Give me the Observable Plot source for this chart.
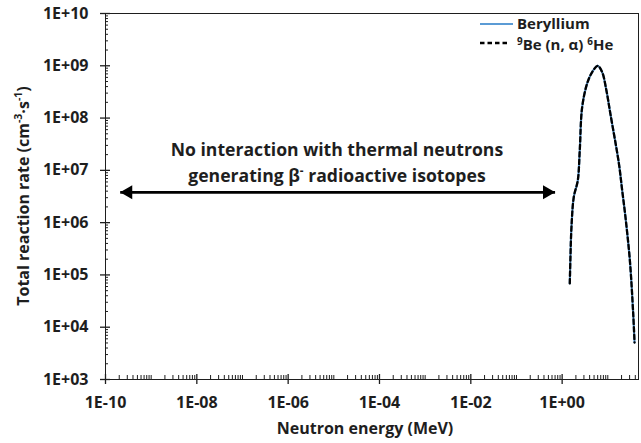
<!DOCTYPE html>
<html>
<head>
<meta charset="utf-8">
<script src="https://cdn.jsdelivr.net/npm/d3@7"></script>
<script src="https://cdn.jsdelivr.net/npm/@observablehq/plot@0.6"></script>
<style>
  body { margin: 0; background: #fff; }
  #chart svg { display: block; }
</style>
</head>
<body>
<div id="chart"></div>
<script>
// Neutron energy (MeV) and total reaction rates (cm^-3 s^-1)
const energy    = [1.47, 1.52, 1.6, 1.8, 2.2, 2.43, 2.74, 3.53, 4.55, 6.0, 7.5, 9.3, 11.4, 17.5, 20.6, 24.4, 30.4, 36, 38.5];
const beryllium = [6.9e4, 2.2e5, 8.2e5, 3.1e6, 6.4e6, 2.4e7, 1.6e8, 4.6e8, 7.6e8, 1.0e9, 7.6e8, 3.4e8, 1.2e8, 1.35e7, 4.2e6, 1.26e6, 1.9e5, 1.8e4, 5.1e3];
const be9nAlpha = [6.9e4, 2.2e5, 8.2e5, 3.1e6, 6.4e6, 2.4e7, 1.6e8, 4.6e8, 7.6e8, 1.0e9, 7.6e8, 3.4e8, 1.2e8, 1.35e7, 4.2e6, 1.26e6, 1.9e5, 1.8e4, 5.1e3];

// Axis ticks
const xMajor = [1e-10, 1e-8, 1e-6, 1e-4, 1e-2, 1];
const yMajor = [1e3, 1e4, 1e5, 1e6, 1e7, 1e8, 1e9, 1e10];
const xDecades = d3.range(-10, 2);
const yDecades = d3.range(3, 10);
const xMinor = xDecades.flatMap(e => d3.range(1, 10).map(m => m * 10 ** e))
  .filter(v => v <= 47 && !xMajor.includes(v));
const yMinor = yDecades.flatMap(e => d3.range(2, 10).map(m => m * 10 ** e));

// Annotation: double arrow span and its caption
const arrowEnds = [2.1e-10, 0.7];
const arrowLevel = 3.8e6;
const noteX = 1.2e-5;
const noteLines = [
  {y: 2.4e7, parts: [{t: "No interaction with thermal neutrons"}]},
  {y: 7.6e6, parts: [{t: "generating β"}, {t: "-", sup: true}, {t: " radioactive isotopes"}]}
];

const rows = energy.map((e, i) => ({energy: e, beryllium: beryllium[i], reaction: be9nAlpha[i]}));

const W = 641, H = 443;
const mt = 13, mb = 64, ml = 105, mr = 3;
const pw = W - ml - mr, ph = H - mt - mb;
const ink = "#1e1e1e";
const font = "'Open Sans', Lato, sans-serif";

const fmtExp = d => {
  const e = Math.round(Math.log10(d));
  return "1E" + (e < 0 ? "-" : "+") + String(Math.abs(e)).padStart(2, "0");
};

const chart = Plot.plot({
  width: W, height: H,
  marginTop: mt, marginBottom: mb, marginLeft: ml, marginRight: mr,
  style: {fontFamily: font, fontSize: "16px", fontWeight: "bold", color: ink, background: "#fff"},
  x: {type: "log", domain: [1e-10, 47]},
  y: {type: "log", domain: [1e3, 1e10]},
  marks: [
    Plot.frame({stroke: ink, strokeWidth: 1}),
    // minor ticks (inside)
    Plot.tickX(xMinor, {x: d => d, insetTop: ph - 4, stroke: ink, strokeWidth: 1}),
    Plot.tickY(yMinor, {y: d => d, insetRight: pw - 3, stroke: ink, strokeWidth: 1}),
    // major ticks (crossing the axis line)
    Plot.tickX(xMajor, {x: d => d, insetTop: ph - 5, insetBottom: -5, stroke: ink, strokeWidth: 1.3}),
    Plot.tickY(yMajor, {y: d => d, insetRight: pw - 5, insetLeft: -5, stroke: ink, strokeWidth: 1.3}),
    Plot.axisX({ticks: xMajor, tickSize: 0, tickPadding: 17, tickFormat: fmtExp, fill: ink, fontSize: 16, label: null}),
    Plot.axisY({ticks: yMajor, tickSize: 0, tickPadding: 17, tickFormat: fmtExp, fill: ink, fontSize: 16, label: null}),
    // arrow
    Plot.link([0], {x1: [arrowEnds[0]], x2: [arrowEnds[1]], y1: [arrowLevel], y2: [arrowLevel], stroke: "#000", strokeWidth: 2.6}),
    Plot.dot(arrowEnds, {x: d => d, y: () => arrowLevel, symbol: "triangle", r: 5.2, fill: "#000", stroke: "none",
      rotate: (d, i) => (i ? 90 : -90)}),
    // series
    Plot.line(rows, {x: "energy", y: "beryllium", stroke: "#5B9BD5", strokeWidth: 2.2, curve: "catmull-rom"}),
    Plot.line(rows, {x: "energy", y: "reaction", stroke: "#000", strokeWidth: 2.3, strokeDasharray: "4.5,3", curve: "catmull-rom"})
  ]
});

document.getElementById("chart").append(chart);

const svg = d3.select(chart);
const sx = chart.scale("x"), sy = chart.scale("y");

// shift arrowheads so their tips land on the arrow ends
svg.selectAll("g[aria-label=dot] path").each(function(d, i) {
  const el = d3.select(this);
  const t = el.attr("transform") || "";
  el.attr("transform", `translate(${i ? -8 : 8},0) ` + t);
});

function addText(g, parts, size, raise = 0.42) {
  const text = g.append("text").attr("font-size", size);
  let shifted = false;
  for (const p of parts) {
    const ts = text.append("tspan").text(p.t);
    if (p.sup && !shifted) { ts.attr("font-size", size * 0.66).attr("dy", -size * raise); shifted = true; }
    else if (!p.sup && shifted) { ts.attr("dy", size * raise); shifted = false; }
    else if (p.sup) ts.attr("font-size", size * 0.66);
  }
  return text;
}

const labels = svg.append("g").attr("fill", ink).attr("font-weight", "bold").attr("font-family", font);

// caption over the arrow
for (const line of noteLines) {
  addText(labels, line.parts, 17.6)
    .attr("text-anchor", "middle")
    .attr("x", sx.apply(noteX))
    .attr("y", sy.apply(line.y))
    .attr("dy", "0.35em");
}

// axis titles
addText(labels, [{t: "Neutron energy (MeV)"}], 16)
  .attr("text-anchor", "middle").attr("x", 365).attr("y", 434);
addText(labels, [{t: "Total reaction rate (cm"}, {t: "-3", sup: true}, {t: "·s"}, {t: "-1", sup: true}, {t: ")"}], 16)
  .attr("text-anchor", "middle")
  .attr("transform", `translate(29,${mt + ph / 2}) rotate(-90)`);

// legend
const lg = svg.append("g").attr("font-weight", "bold").attr("fill", ink).attr("font-family", font);
lg.append("line").attr("x1", 480).attr("x2", 513).attr("y1", 24).attr("y2", 24)
  .attr("stroke", "#5B9BD5").attr("stroke-width", 2);
addText(lg, [{t: "Beryllium"}], 15).attr("text-anchor", "start").attr("x", 517).attr("y", 29);
lg.append("line").attr("x1", 480).attr("x2", 510).attr("y1", 43).attr("y2", 43)
  .attr("stroke", "#000").attr("stroke-width", 2.3).attr("stroke-dasharray", "4.5,3");
addText(lg, [{t: "9", sup: true}, {t: "Be (n, α) "}, {t: "6", sup: true}, {t: "He"}], 15, 0.32).attr("text-anchor", "start").attr("x", 517).attr("y", 49.5);
</script>
</body>
</html>
